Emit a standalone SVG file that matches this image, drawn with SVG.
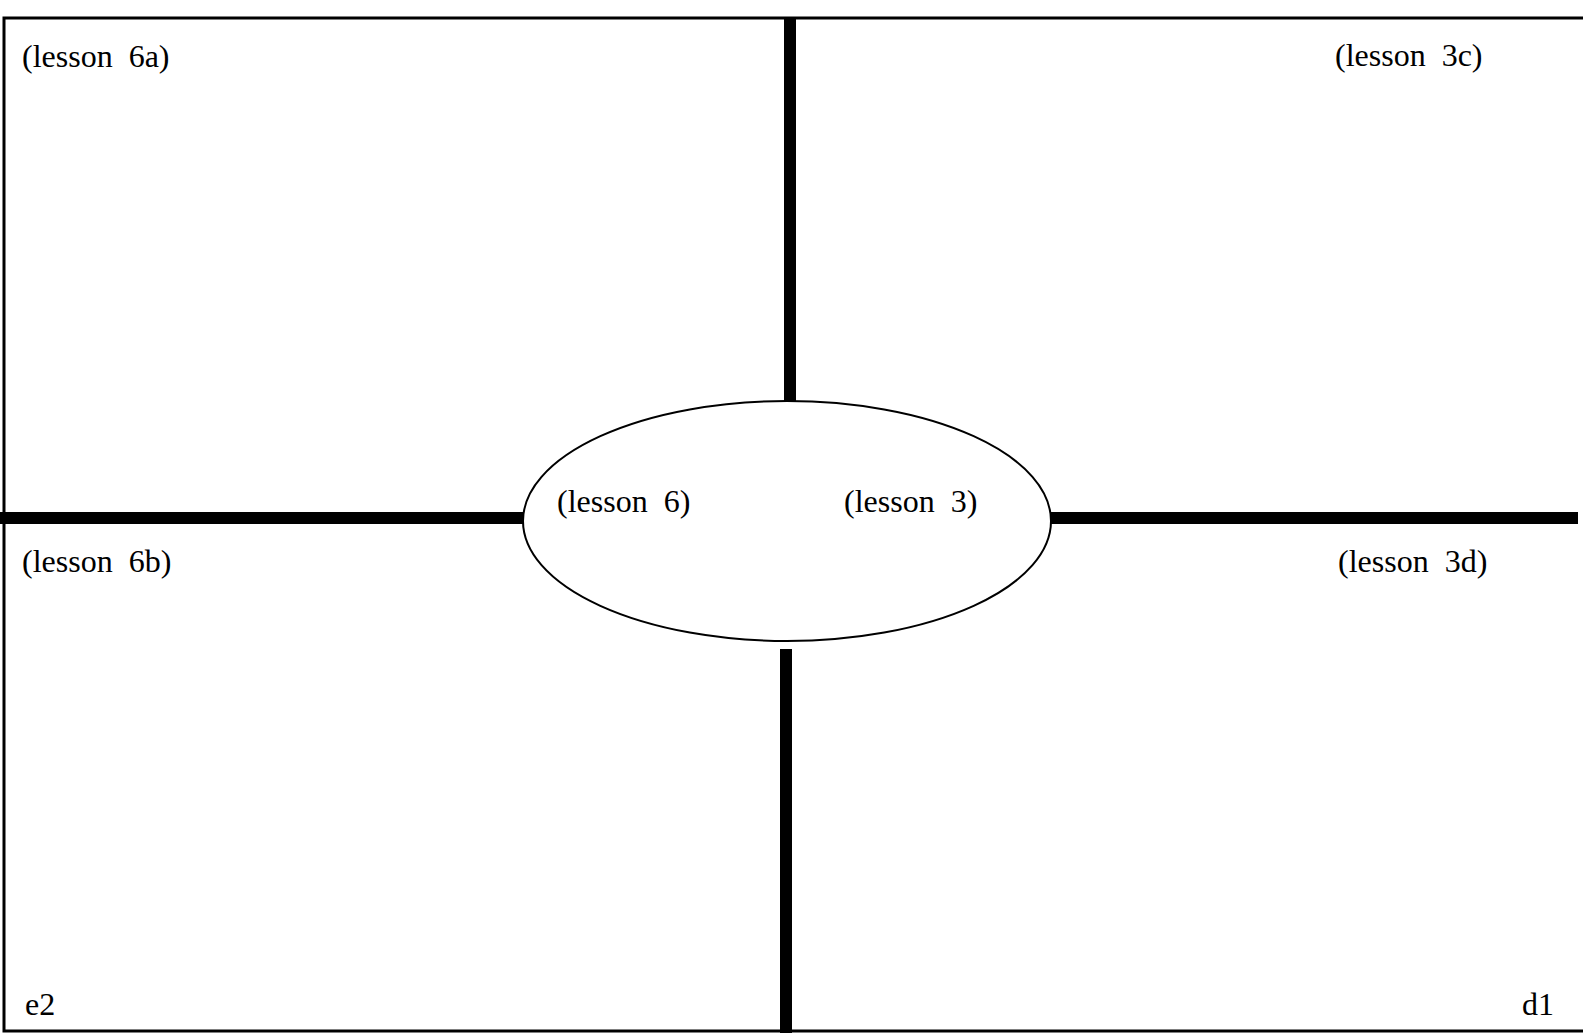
<svg xmlns="http://www.w3.org/2000/svg" width="1583" height="1035" viewBox="0 0 1583 1035">
<style>
.t{font-family:"Liberation Serif","Times New Roman",serif;font-size:32px;fill:#000;white-space:pre}
.bar{stroke:#000;stroke-width:12;fill:none}
</style>
<rect x="0" y="0" width="1583" height="1035" fill="#fff"/>
<g id="frame"><path d="M1590 18 H4 V1031 H1590" fill="none" stroke="#000" stroke-width="3"/></g>
<g id="connectors">
<line class="bar" x1="790" y1="18" x2="790" y2="402"/>
<line class="bar" x1="786" y1="649" x2="786" y2="1033"/>
<line class="bar" x1="0" y1="518" x2="524" y2="518"/>
<line class="bar" x1="1050" y1="518" x2="1578" y2="518"/>
</g>
<g id="center"><ellipse cx="787" cy="521" rx="264" ry="120" fill="#fff" stroke="#000" stroke-width="2"/>
<text class="t" x="557" y="512">(lesson  6)</text>
<text class="t" x="844" y="512">(lesson  3)</text></g>
<g id="q6a"><text class="t" x="22" y="67">(lesson  6a)</text></g>
<g id="q3c"><text class="t" x="1335" y="66">(lesson  3c)</text></g>
<g id="q6b"><text class="t" x="22" y="572">(lesson  6b)</text></g>
<g id="q3d"><text class="t" x="1338" y="572">(lesson  3d)</text></g>
<g id="e2"><text class="t" x="25" y="1015">e2</text></g>
<g id="d1"><text class="t" x="1522" y="1015">d1</text></g>
</svg>
